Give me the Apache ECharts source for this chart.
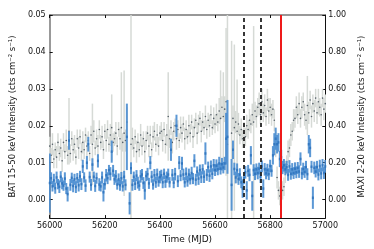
<!DOCTYPE html>
<html><head><meta charset="utf-8">
<script src="https://cdn.jsdelivr.net/npm/echarts@6/dist/echarts.min.js"></script>
<style>html,body{margin:0;padding:0;background:#fff}#c{width:374px;height:249px}</style>
</head><body><div id="c"></div>
<script>
// time grid (MJD), 5-day bins from 56000 to 57000
const mjdStart = 56000, mjdStep = 5, nBins = 201;
// MAXI 2-20 keV (grey dots, right axis)
const maxiRate = [
0.29,0.24,0.30,0.22,0.27,0.23,0.31,0.25,0.28,0.21,
0.31,0.26,0.32,0.24,0.37,0.25,0.33,0.27,0.30,0.23,
0.33,0.28,0.34,0.26,0.31,0.27,0.35,0.29,0.32,0.25,
0.35,0.30,0.37,0.28,0.33,0.29,0.38,0.31,0.34,0.27,
0.37,0.32,0.38,0.30,0.35,0.39,0.31,0.33,0.36,0.29,
0.38,0.33,0.39,0.31,0.36,0.32,0.42,null,null,0.30,
0.33,0.28,0.34,0.26,0.31,0.27,0.35,0.29,0.33,0.26,0.32,0.36,0.29,0.35,0.27,0.34,0.37,0.30,0.35,0.29,0.36,
0.37,0.32,0.38,0.30,0.35,0.45,0.33,0.39,0.31,0.37,0.40,0.33,0.38,0.32,0.39,0.36,0.41,0.33,0.38,0.34,
0.40,0.36,0.42,0.34,0.39,0.43,0.36,0.41,0.44,0.37,0.42,0.39,0.45,0.38,0.43,0.40,0.46,0.39,0.44,0.41,
0.46,0.42,0.48,0.44,0.50,0.45,0.49,0.53,
0.30,null,null,0.36,
0.44,0.39,0.42,0.37,0.41,0.35,0.38,0.33,0.36,0.34,0.40,0.38,0.43,0.41,0.46,0.42,0.48,0.45,0.50,
0.52,0.46,0.53,0.47,0.51,0.45,0.54,0.48,0.50,0.46,0.49,0.43,
0.30,0.12,0.05,0.02,0.01,0.05,0.07,0.15,0.19,0.26,0.28,0.35,0.37,0.43,0.44,0.50,
0.46,0.52,0.44,0.50,0.53,0.46,0.43,0.51,0.47,0.54,0.45,0.52,0.48,0.55,0.47,0.53,0.50,0.46,0.55,0.49,0.52
];
const maxiErr = [
0.05,0.04,0.06,0.05,0.04,0.06,0.05,0.04,0.05,0.06,
0.05,0.04,0.06,0.05,0.18,0.05,0.04,0.06,0.05,0.04,
0.05,0.06,0.04,0.05,0.06,0.05,0.04,0.06,0.05,0.04,
0.05,0.22,0.06,0.04,0.05,0.06,0.05,0.04,0.06,0.05,
0.04,0.06,0.05,0.04,0.06,0.18,0.05,0.04,0.06,0.05,
0.04,0.06,0.30,0.05,0.34,0.06,0.08,0,0,0.70,
0.06,0.05,0.04,0.06,0.05,0.04,0.06,0.05,0.04,0.06,0.05,0.04,0.06,0.05,0.04,0.06,0.05,0.04,0.06,0.05,0.04,
0.05,0.06,0.04,0.05,0.06,0.24,0.05,0.04,0.06,0.05,0.04,0.06,0.05,0.04,0.06,0.05,0.04,0.06,0.05,0.04,
0.06,0.05,0.04,0.06,0.05,0.04,0.06,0.05,0.04,0.06,0.05,0.04,0.06,0.05,0.04,0.06,0.05,0.04,0.06,0.05,
0.06,0.05,0.07,0.26,0.06,0.24,0.07,0.40,
0.80,0,0,0.50,
0.07,0.45,0.06,0.28,0.06,0.05,0.06,0.05,0.06,0.05,0.06,0.05,0.06,0.05,0.06,0.52,0.05,0.06,0.05,
0.06,0.05,0.07,0.05,0.06,0.05,0.06,0.07,0.05,0.06,0.05,0.06,
0.07,0.06,0.05,0.05,0.05,0.05,0.05,0.06,0.05,0.06,0.05,0.06,0.05,0.06,0.05,0.06,
0.05,0.06,0.05,0.06,0.05,0.06,0.05,0.16,0.06,0.05,0.06,0.05,0.06,0.05,0.06,0.07,0.05,0.06,0.05,0.06,0.05
];
// BAT 15-50 keV (blue, left axis)
const batRate = [
0.0045,0.0058,0.0036,0.0052,0.0031,0.0060,0.0042,0.0035,0.0062,0.0044,
0.0038,0.0057,0.0030,0.0015,0.0160,0.0040,0.0059,0.0037,0.0055,0.0034,
0.0058,0.0039,0.0063,0.0042,0.0090,0.0060,0.0038,0.0100,0.0150,0.0061,
0.0040,0.0095,0.0062,0.0037,0.0058,0.0105,0.0041,0.0036,0.0060,0.0020,
0.0042,0.0066,0.0058,0.0080,0.0070,0.0130,0.0078,0.0055,0.0063,0.0041,
0.0055,0.0039,0.0058,0.0036,0.0062,0.0040,0.0170,null,-0.0010,0.0085,
0.0040,0.0062,0.0043,0.0065,0.0046,0.0038,0.0063,0.0068,0.0045,0.0025,0.0064,0.0069,0.0044,0.0100,0.0062,0.0041,0.0066,0.0047,0.0068,0.0049,0.0061,
0.0066,0.0047,0.0070,0.0049,0.0061,0.0068,0.0047,0.0135,0.0067,0.0046,0.0069,0.0200,0.0050,0.0100,0.0065,0.0098,0.0068,0.0047,0.0070,0.0050,
0.0068,0.0055,0.0072,0.0057,0.0105,0.0054,0.0076,0.0057,0.0080,0.0061,0.0082,0.0062,0.0125,0.0067,0.0088,0.0065,0.0090,0.0070,0.0093,0.0080,
0.0092,0.0082,0.0098,0.0084,0.0096,0.0087,0.0098,0.0165,
0.0170,null,null,0.0040,
0.0135,0.0083,0.0060,0.0080,0.0056,0.0068,0.0047,0.0030,0.0058,0.0074,0.0025,0.0078,0.0067,0.0120,0.0010,0.0080,0.0070,0.0082,0.0072,
0.0084,0.0062,0.0090,0.0030,0.0082,0.0071,0.0080,0.0069,0.0091,0.0078,0.0120,0.0150,
0.0165,0.0150,0.0155,0.0110,0.0115,0.0087,0.0093,0.0082,0.0088,0.0067,0.0090,0.0070,0.0082,0.0072,0.0084,0.0074,
0.0086,0.0076,0.0110,0.0071,0.0083,0.0075,0.0088,0.0069,0.0150,0.0140,0.0089,0.0005,0.0086,0.0076,0.0088,0.0068,0.0091,0.0071,0.0093,0.0072,0.0090
];
const batErr = [
0.0080,0.0016,0.0014,0.0018,0.0015,0.0016,0.0014,0.0017,0.0015,0.0016,
0.0014,0.0017,0.0015,0.0020,0.0025,0.0016,0.0014,0.0017,0.0015,0.0016,
0.0014,0.0017,0.0015,0.0016,0.0018,0.0014,0.0017,0.0018,0.0020,0.0015,
0.0016,0.0017,0.0014,0.0016,0.0015,0.0018,0.0017,0.0014,0.0016,0.0025,
0.0015,0.0017,0.0016,0.0014,0.0018,0.0030,0.0016,0.0015,0.0017,0.0014,
0.0016,0.0015,0.0017,0.0014,0.0016,0.0015,0.0090,0,0.0030,0.0016,
0.0016,0.0014,0.0017,0.0015,0.0016,0.0014,0.0017,0.0015,0.0016,0.0025,0.0014,0.0017,0.0015,0.0018,0.0016,0.0014,0.0017,0.0015,0.0016,0.0014,0.0017,
0.0015,0.0016,0.0014,0.0017,0.0015,0.0016,0.0014,0.0030,0.0016,0.0015,0.0017,0.0030,0.0016,0.0018,0.0015,0.0018,0.0016,0.0014,0.0017,0.0015,
0.0016,0.0014,0.0017,0.0015,0.0018,0.0016,0.0014,0.0017,0.0015,0.0016,0.0014,0.0017,0.0030,0.0016,0.0015,0.0017,0.0016,0.0015,0.0017,0.0016,
0.0017,0.0016,0.0018,0.0016,0.0017,0.0016,0.0018,0.0070,
0.0100,0,0,0.0070,
0.0025,0.0017,0.0016,0.0018,0.0016,0.0017,0.0016,0.0025,0.0016,0.0017,0.0025,0.0016,0.0017,0.0025,0.0040,0.0016,0.0017,0.0016,0.0017,
0.0016,0.0017,0.0016,0.0025,0.0017,0.0016,0.0017,0.0016,0.0017,0.0016,0.0025,0.0030,
0.0030,0.0025,0.0025,0.0022,0.0020,0.0018,0.0017,0.0016,0.0017,0.0016,0.0017,0.0016,0.0017,0.0016,0.0017,0.0016,
0.0016,0.0017,0.0018,0.0016,0.0017,0.0016,0.0017,0.0016,0.0025,0.0025,0.0016,0.0030,0.0017,0.0016,0.0017,0.0016,0.0017,0.0016,0.0017,0.0016,0.0017
];
// marked epochs
const dashedEpochs = [56703, 56766];
const redEpochs = [56837];
// tick labels
const leftTicks = [0.00, 0.01, 0.02, 0.03, 0.04, 0.05];
const rightTicks = [0.00, 0.20, 0.40, 0.60, 0.80, 1.00];

function build(vals, errs) {
  const out = [];
  for (let i = 0; i < nBins; i++) {
    if (vals[i] === null || vals[i] === undefined) continue;
    out.push([mjdStart + mjdStep * i, vals[i], errs[i]]);
  }
  return out;
}
const maxiData = build(maxiRate, maxiErr);
const batData = build(batRate, batErr);

function errRender(color, width, opacity) {
  return function (params, api) {
    const x = api.value(0), y = api.value(1), e = api.value(2);
    const p1 = api.coord([x, y - e]), p2 = api.coord([x, y + e]);
    return { type: 'line', shape: { x1: p1[0], y1: p1[1], x2: p2[0], y2: p2[1] },
      style: { stroke: color, lineWidth: width, opacity: opacity } };
  };
}

const FONT = 'DejaVu Sans';
const chart = echarts.init(document.getElementById('c'), null, { renderer: 'canvas' });
chart.setOption({
  animation: false,
  backgroundColor: '#fff',
  grid: { left: 45, right: 38, top: 15, bottom: 23 },
  xAxis: [{
    type: 'value', min: 56000, max: 57000, interval: 200,
    axisLine: { onZero: false, lineStyle: { color: '#111', width: 1 } },
    axisTick: { inside: true, length: 3, lineStyle: { color: '#111' } },
    axisLabel: { fontFamily: FONT, fontSize: 8, color: '#111', margin: 4, formatter: v => String(v) },
    splitLine: { show: false },
    name: 'Time (MJD)', nameLocation: 'middle', nameGap: 14,
    nameTextStyle: { fontFamily: FONT, fontSize: 9, color: '#111' }
  }, {
    type: 'value', min: 56000, max: 57000, interval: 200, position: 'top',
    axisLine: { onZero: false, lineStyle: { color: '#777', width: 1.5 } },
    axisTick: { inside: true, length: 3, lineStyle: { color: '#111' } },
    axisLabel: { show: false }, splitLine: { show: false }
  }],
  yAxis: [{
    type: 'value', min: -0.005, max: 0.05, position: 'left',
    axisLine: { show: true, onZero: false, lineStyle: { color: '#777', width: 1.5 } },
    axisTick: { show: true, inside: true, length: 3, customValues: leftTicks, lineStyle: { color: '#111' } },
    axisLabel: { fontFamily: FONT, fontSize: 8, color: '#111', margin: 4, customValues: leftTicks, formatter: v => v.toFixed(2) },
    splitLine: { show: false },
    name: 'BAT 15-50 keV Intensity (cts cm\u207B\u00B2 s\u207B\u00B9)', nameLocation: 'middle', nameGap: 25,
    nameTextStyle: { fontFamily: FONT, fontSize: 8.5, color: '#111' }
  }, {
    type: 'value', min: -0.1, max: 1.0, position: 'right',
    axisLine: { show: true, onZero: false, lineStyle: { color: '#111', width: 1 } },
    axisTick: { show: true, inside: true, length: 3, customValues: rightTicks, lineStyle: { color: '#111' } },
    axisLabel: { fontFamily: FONT, fontSize: 8, color: '#111', margin: 3, customValues: rightTicks, formatter: v => v.toFixed(2) },
    splitLine: { show: false },
    name: 'MAXI 2-20 keV Intensity (cts cm\u207B\u00B2 s\u207B\u00B9)', nameLocation: 'middle', nameGap: 23,
    nameRotate: 90,
    nameTextStyle: { fontFamily: FONT, fontSize: 8.5, color: '#111' }
  }],
  series: [
    { type: 'custom', name: 'maxiErr', xAxisIndex: 0, yAxisIndex: 1, clip: true, z: 1,
      renderItem: errRender('#d6dad6', 1.5, 1), data: maxiData },
    { type: 'scatter', name: 'maxi', xAxisIndex: 0, yAxisIndex: 1, clip: true, z: 2,
      symbol: 'circle', symbolSize: 1.6, itemStyle: { color: '#33404c' }, data: maxiData },
    { type: 'custom', name: 'batErr', xAxisIndex: 0, yAxisIndex: 0, clip: true, z: 3,
      renderItem: errRender('#4a8dd0', 2, 0.9), data: batData },
    { type: 'scatter', name: 'bat', xAxisIndex: 0, yAxisIndex: 0, clip: true, z: 4,
      symbol: 'rect', symbolSize: [2, 2.5], itemStyle: { color: '#2a70bb' }, data: batData,
      markLine: {
        silent: true, symbol: 'none', label: { show: false }, animation: false,
        data: dashedEpochs.map(v => ({ xAxis: v, lineStyle: { color: '#222', width: 1.8, type: [4, 3] } }))
          .concat(redEpochs.map(v => ({ xAxis: v, lineStyle: { color: '#ee1a1a', width: 2, type: 'solid' } })))
      }
    }
  ]
});
</script></body></html>
